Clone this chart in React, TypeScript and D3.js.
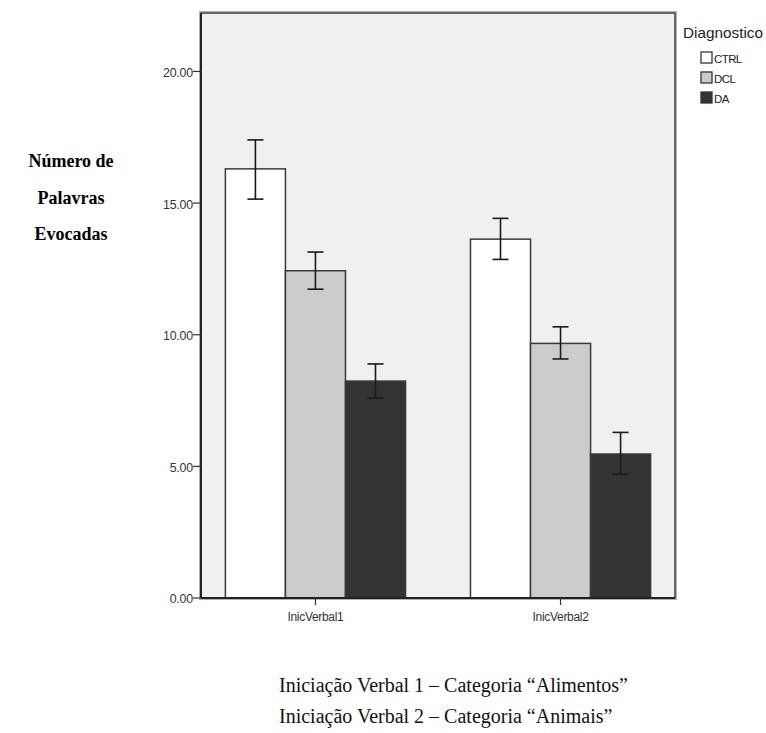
import React from "react";
import * as d3 from "d3";

// Mean number of evoked words per verbal initiation task, by diagnostic group
const tasks = ["InicVerbal1", "InicVerbal2"];
const groups = ["CTRL", "DCL", "DA"];
const groupFill = ["#ffffff", "#cccccc", "#333333"];

const meanCTRL = [16.3, 13.63];
const meanDCL = [12.43, 9.67];
const meanDA = [8.24, 5.47];

const lowCTRL = [15.15, 12.86];
const highCTRL = [17.4, 14.42];
const lowDCL = [11.73, 9.08];
const highDCL = [13.14, 10.3];
const lowDA = [7.6, 4.7];
const highDA = [8.89, 6.29];

const yTicks = [0, 5, 10, 15, 20];
const yTitle = ["Número de", "Palavras", "Evocadas"];
const captions = [
  "Iniciação Verbal 1 – Categoria “Alimentos”",
  "Iniciação Verbal 2 – Categoria “Animais”",
];

const means = [meanCTRL, meanDCL, meanDA];
const lows = [lowCTRL, lowDCL, lowDA];
const highs = [highCTRL, highDCL, highDA];

const W = 766;
const H = 733;
const plot = { left: 201, right: 675, top: 13, bottom: 598 };
const sans = "Arial, 'Liberation Sans', sans-serif";
const serif = "'Times New Roman', 'Liberation Serif', serif";

export default function App() {
  const y = d3.scaleLinear().domain([0, 22.22]).range([plot.bottom, plot.top]);
  const x = d3.scalePoint<string>().domain(tasks).range([plot.left, plot.right]).padding(0.467);
  const step = x.step();
  const barW = step * 0.245;
  const inner = d3.scaleBand<string>().domain(groups).range([-1.5 * barW, 1.5 * barW]);

  return (
    <svg width={W} height={H} style={{ position: "absolute", left: 0, top: 0, background: "#fff" }}>
      {/* plot frame with a soft outer edge */}
      <rect
        x={plot.left - 1.5}
        y={plot.top - 1.5}
        width={plot.right - plot.left + 3}
        height={plot.bottom - plot.top + 3}
        fill="none"
        stroke="#b0b0b0"
        strokeWidth={1}
      />
      <rect
        x={plot.left}
        y={plot.top}
        width={plot.right - plot.left}
        height={plot.bottom - plot.top}
        fill="#f0f0f0"
        stroke="#3a3a3a"
        strokeWidth={1.5}
      />

      {/* bars */}
      {tasks.map((t, ti) =>
        groups.map((g, gi) => {
          const bx = (x(t) as number) + (inner(g) as number);
          const top = y(means[gi][ti]);
          return (
            <rect
              key={`${t}-${g}`}
              x={bx}
              y={top}
              width={inner.bandwidth()}
              height={plot.bottom - top}
              fill={groupFill[gi]}
              stroke="#3a3a3a"
              strokeWidth={1.5}
            />
          );
        })
      )}

      {/* error bars */}
      {tasks.map((t, ti) =>
        groups.map((g, gi) => {
          const cx = (x(t) as number) + (inner(g) as number) + inner.bandwidth() / 2;
          const y1 = y(highs[gi][ti]);
          const y2 = y(lows[gi][ti]);
          return (
            <g key={`e-${t}-${g}`} stroke="#1a1a1a" strokeWidth={1.6}>
              <line x1={cx} x2={cx} y1={y1} y2={y2} />
              <line x1={cx - 8} x2={cx + 8} y1={y1} y2={y1} />
              <line x1={cx - 8} x2={cx + 8} y1={y2} y2={y2} />
            </g>
          );
        })
      )}

      {/* axes */}
      <line x1={plot.left} x2={plot.left} y1={plot.top} y2={plot.bottom} stroke="#222" strokeWidth={2} />
      <line x1={plot.left} x2={plot.right} y1={plot.bottom} y2={plot.bottom} stroke="#222" strokeWidth={2} />
      {yTicks.map((v) => (
        <g key={v}>
          <line x1={plot.left - 8} x2={plot.left} y1={y(v)} y2={y(v)} stroke="#333" strokeWidth={1.2} />
          <text
            x={plot.left - 8}
            y={y(v) + 1}
            dy="0.36em"
            textAnchor="end"
            fontFamily={sans}
            fontSize={12.4}
            fill="#333"
            letterSpacing={-0.2}
          >
            {d3.format(".2f")(v)}
          </text>
        </g>
      ))}
      {tasks.map((t) => (
        <g key={t}>
          <line x1={x(t)} x2={x(t)} y1={plot.bottom} y2={plot.bottom + 7} stroke="#333" strokeWidth={1.2} />
          <text
            x={x(t)}
            y={plot.bottom + 23}
            textAnchor="middle"
            fontFamily={sans}
            fontSize={12}
            fill="#333"
            letterSpacing={-0.3}
          >
            {t}
          </text>
        </g>
      ))}

      {/* y title */}
      {yTitle.map((s, i) => (
        <text
          key={s}
          x={71}
          y={167 + i * 36.5}
          textAnchor="middle"
          fontFamily={serif}
          fontWeight="bold"
          fontSize={18}
          fill="#000"
        >
          {s}
        </text>
      ))}

      {/* legend */}
      <text x={683} y={38} fontFamily={sans} fontSize={14.5} fill="#222" textLength={80} lengthAdjust="spacingAndGlyphs">
        Diagnostico
      </text>
      {groups.map((g, gi) => (
        <g key={g} transform={`translate(701, ${52 + gi * 20})`}>
          <rect x={0} y={0} width={11} height={11} fill={groupFill[gi]} stroke="#333" strokeWidth={1.3} />
          <text x={13} y={10.5} fontFamily={sans} fontSize={11.5} fill="#222" letterSpacing={-0.6}>
            {g}
          </text>
        </g>
      ))}

      {/* captions */}
      {captions.map((c, i) => (
        <text key={c} x={279} y={692 + i * 31} fontFamily={serif} fontSize={20} fill="#111">
          {c}
        </text>
      ))}
    </svg>
  );
}
